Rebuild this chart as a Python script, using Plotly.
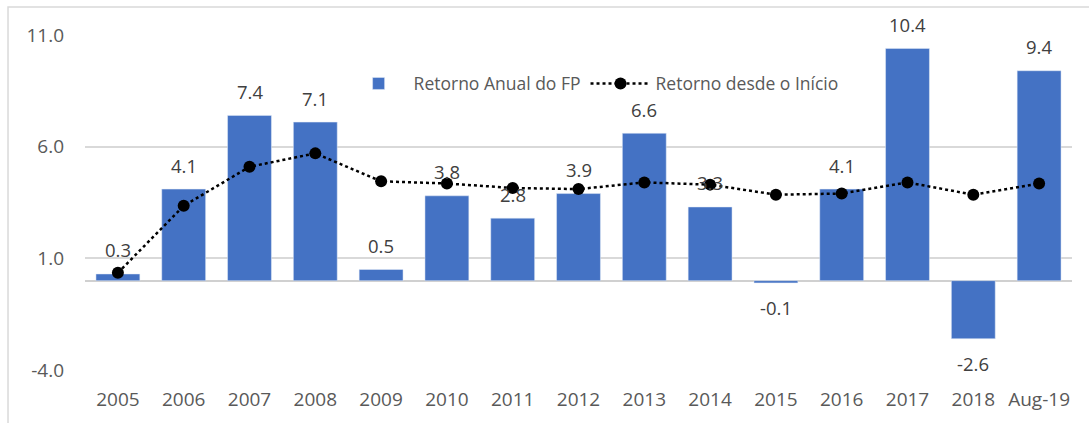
import plotly.graph_objects as go

categories = ["2005", "2006", "2007", "2008", "2009", "2010", "2011", "2012",
              "2013", "2014", "2015", "2016", "2017", "2018", "Aug-19"]
annual_return = [0.3, 4.1, 7.4, 7.1, 0.5, 3.8, 2.8, 3.9, 6.6, 3.3, -0.1, 4.1, 10.4, -2.6, 9.4]
since_inception = [0.35, 3.35, 5.1, 5.7, 4.45, 4.35, 4.15, 4.1, 4.4, 4.3, 3.85, 3.9, 4.4, 3.85, 4.35]
y_ticks = [-4.0, 1.0, 6.0, 11.0]
y_tick_labels = ["-4.0", "1.0", "6.0", "11.0"]

FONT = "Open Sans, DejaVu Sans, sans-serif"
GRAY = "#595959"

fig = go.Figure()
fig.add_trace(go.Bar(
    x=categories, y=annual_return, name="Retorno Anual do FP",
    marker=dict(color="#4472C4"), hoverinfo="x+y",
))
fig.add_trace(go.Scatter(
    x=categories, y=since_inception, name="Retorno desde o Início",
    mode="lines+markers",
    line=dict(color="black", width=2.5, dash="dot"),
    marker=dict(color="black", size=12, symbol="circle"),
))

for i, v in enumerate(annual_return):
    fig.add_annotation(x=i, y=v, text=f"{v:.1f}", showarrow=False,
                       yshift=24 if v >= 0 else -25,
                       font=dict(family=FONT, size=18.5, color="#404040"))

fig.add_shape(type="rect", xref="paper", yref="paper",
              x0=-0.078, x1=1.1, y0=-0.3, y1=1.0836,
              line=dict(color="#D9D9D9", width=1.5), layer="below")

fig.update_layout(
    width=1089, height=423,
    margin=dict(l=85, r=17, t=35, b=53),
    paper_bgcolor="white", plot_bgcolor="white",
    bargap=0.333,
    font=dict(family=FONT, size=19, color=GRAY),
    showlegend=True,
    legend=dict(orientation="h", x=0.262, y=0.855, xanchor="left", yanchor="middle",
                font=dict(family=FONT, size=17.5, color=GRAY),
                bgcolor="rgba(0,0,0,0)", itemwidth=60),
    xaxis=dict(type="category", range=[-0.5, len(categories) - 0.5],
               showgrid=False, showline=False, ticks="", ticklabelstandoff=16,
               tickfont=dict(family=FONT, size=19, color=GRAY)),
    yaxis=dict(range=[-4, 11], tickvals=y_ticks, ticktext=y_tick_labels,
               showgrid=True, gridcolor="#D9D9D9", gridwidth=1.5,
               zeroline=True, zerolinecolor="#D0D0D0", zerolinewidth=2.2,
               showline=False, ticks="", ticklabelstandoff=20,
               tickfont=dict(family=FONT, size=19, color=GRAY)),
)

fig.write_html("out.html", config={"displayModeBar": False},
               post_script="document.body.style.margin='0';document.body.style.overflow='hidden';")
